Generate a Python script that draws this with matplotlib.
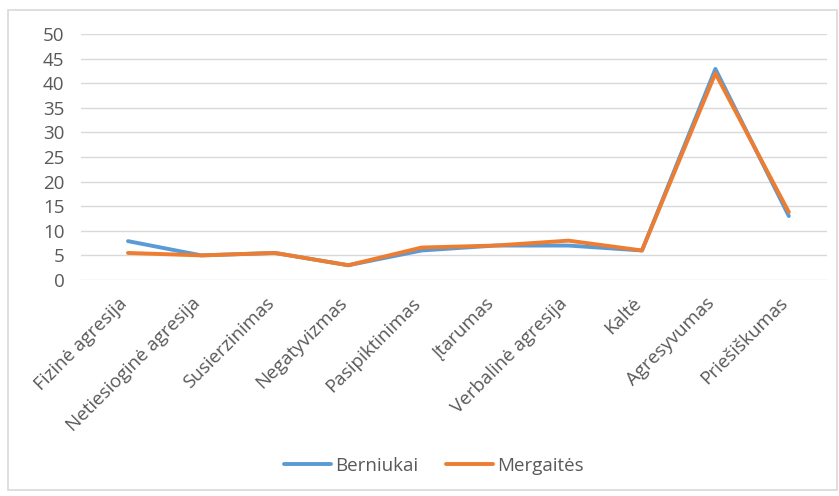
import matplotlib.pyplot as plt
from matplotlib.patches import Rectangle
from matplotlib.transforms import ScaledTranslation

# data
categories = ["Fizinė agresija", "Netiesioginė agresija", "Susierzinimas", "Negatyvizmas",
              "Pasipiktinimas", "Įtarumas", "Verbalinė agresija", "Kaltė",
              "Agresyvumas", "Priešiškumas"]
berniukai = [7.9, 5.0, 5.5, 3.0, 6.0, 7.0, 7.0, 6.0, 42.9, 13.0]
mergaites = [5.5, 5.0, 5.5, 3.0, 6.6, 7.0, 8.0, 6.0, 42.0, 13.8]
yticks = list(range(0, 51, 5))

plt.rcParams['font.family'] = ['Open Sans', 'DejaVu Sans']
fs = 13.5
grey = "#595959"

fig = plt.figure(figsize=(8.39, 4.96), dpi=100)
ax = fig.add_axes([81/839, 1 - 280/496, (827 - 81)/839, (280 - 34)/496])

x = list(range(len(categories)))
ax.plot(x, berniukai, color="#5B9BD5", lw=2.8, label="Berniukai", solid_capstyle="round")
ax.plot(x, mergaites, color="#ED7D31", lw=2.8, label="Mergaitės", solid_capstyle="round")

ax.set_ylim(0, 50)
ax.set_xlim(-0.64, 9.52)
ax.set_yticks(yticks)
ax.yaxis.grid(True, color="#D9D9D9", lw=1)
ax.set_axisbelow(True)
for s in ["top", "right", "left", "bottom"]:
    ax.spines[s].set_visible(False)
ax.tick_params(axis="both", length=0, colors=grey, labelsize=fs)
ax.tick_params(axis="y", pad=12)
ax.set_xticks(x)
ax.set_xticklabels(categories, rotation=45, ha="right", va="top", rotation_mode="anchor")
ax.tick_params(axis="x", pad=3)
# nudge the rotated labels down-left a bit, like the excel layout
shift = ScaledTranslation(-0.10, -0.10, fig.dpi_scale_trans)
for lbl in ax.get_xticklabels():
    lbl.set_transform(lbl.get_transform() + shift)

leg = ax.legend(loc="center", bbox_to_anchor=(0.473, -0.756), ncol=2, frameon=False,
                fontsize=fs, handlelength=2.5, handletextpad=0.2, columnspacing=1.5)
for t in leg.get_texts():
    t.set_color(grey)

fig.patches.append(Rectangle((8/839, 6/496), 829/839, 480/496, transform=fig.transFigure,
                             fill=False, edgecolor="#D9D9D9", lw=1.2))

fig.savefig("out.png", dpi=100)
